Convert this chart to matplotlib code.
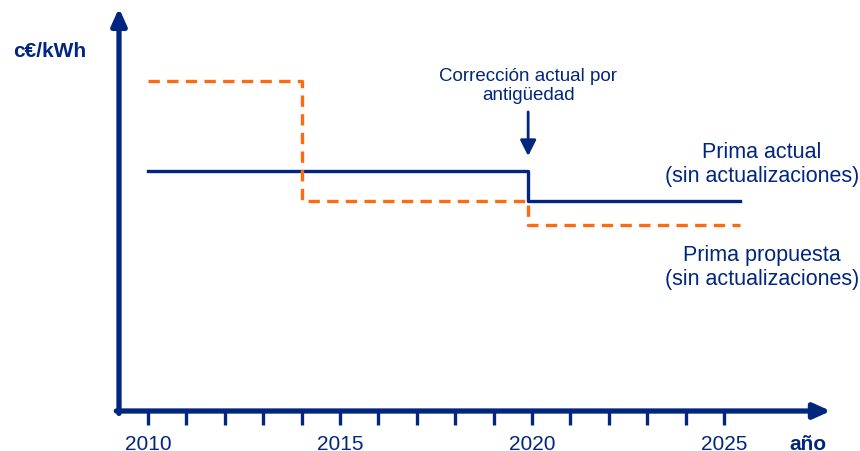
import matplotlib
matplotlib.use("Agg")
import matplotlib.pyplot as plt

# Premium levels (c€/kWh, schematic units) by year
actual_years = [2010, 2019.9, 2019.9, 2025.42]
actual_vals = [8.0, 8.0, 7.0, 7.0]

proposed_years = [2010, 2014, 2014, 2019.9, 2019.9, 2025.42]
proposed_vals = [11.0, 11.0, 7.0, 7.0, 6.2, 6.2]

tick_years = list(range(2010, 2026))
label_years = [2010, 2015, 2020, 2025]

NAVY = "#00267F"
ORANGE = "#FF6A10"
FONT = "Liberation Sans"

fig = plt.figure(figsize=(8.6, 4.52), dpi=100)
ax = fig.add_axes([0, 0, 1, 1])
ax.set_xlim(2006.146, 2028.542)
ax.set_ylim(-1.333, 13.733)
ax.axis("off")

# axes drawn as arrows
x0, y0 = 2009.245, 0.0
ax.annotate("", xy=(2027.78, y0), xytext=(x0 - 0.07, y0),
            arrowprops=dict(arrowstyle="-|>,head_length=1.0,head_width=0.45",
                            color=NAVY, lw=3.8, shrinkA=0, shrinkB=0,
                            mutation_scale=10))
ax.annotate("", xy=(x0, 13.43), xytext=(x0, -0.08),
            arrowprops=dict(arrowstyle="-|>,head_length=1.0,head_width=0.45",
                            color=NAVY, lw=3.8, shrinkA=0, shrinkB=0,
                            mutation_scale=10))

# year ticks
for yr in tick_years:
    ax.plot([yr, yr], [0, -0.45], color=NAVY, lw=2.4, solid_capstyle="butt")
for yr in label_years:
    ax.text(yr, -1.07, str(yr), ha="center", va="center", color=NAVY,
            fontsize=15, family=FONT)

# step lines
ax.plot(actual_years, actual_vals, color=NAVY, lw=2.4)
ax.plot(proposed_years, proposed_vals, color=ORANGE, lw=2.4,
        dashes=(3.4, 2.2))

# annotation arrow for age correction
ax.annotate("", xy=(2019.9, 8.5), xytext=(2019.9, 9.97),
            arrowprops=dict(arrowstyle="-|>,head_length=0.95,head_width=0.48",
                            color=NAVY, lw=2.0, shrinkA=0, shrinkB=0,
                            mutation_scale=10))
ax.text(2019.9, 10.87, "Corrección actual por\nantigüedad", ha="center",
        va="center", color=NAVY, fontsize=13.5, family=FONT, linespacing=1.15)

ax.text(2025.99, 8.25, "Prima actual\n(sin actualizaciones)", ha="center",
        va="center", color=NAVY, fontsize=15.5, family=FONT, linespacing=1.15)
ax.text(2025.99, 4.82, "Prima propuesta\n(sin actualizaciones)", ha="center",
        va="center", color=NAVY, fontsize=15.5, family=FONT, linespacing=1.15)

ax.text(2007.435, 12.0, "c€/kWh", ha="center", va="center", color=NAVY,
        fontsize=15, family=FONT, weight="bold")
ax.text(2027.19, -1.07, "año", ha="center", va="center", color=NAVY,
        fontsize=15, family=FONT, weight="bold")

fig.savefig("out.png", dpi=100)
